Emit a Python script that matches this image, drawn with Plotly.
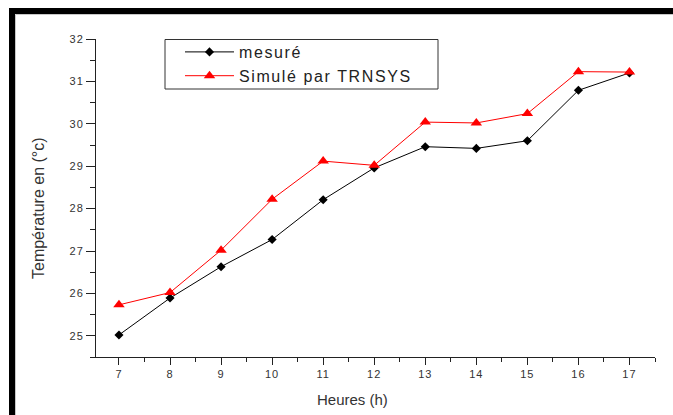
import plotly.graph_objects as go

hours = [7, 8, 9, 10, 11, 12, 13, 14, 15, 16, 17]
mesure = [25.02, 25.89, 26.63, 27.27, 28.21, 28.96, 29.46, 29.42, 29.60, 30.79, 31.20]
simule = [25.73, 26.02, 27.02, 28.22, 29.12, 29.02, 30.04, 30.02, 30.24, 31.23, 31.22]
name_mesure = "mesuré"
name_simule = "Simulé par TRNSYS"
x_title = "Heures (h)"
y_title = "Température en (°c)"

FONT = "Liberation Sans, Arial, sans-serif"
AXC = "#222222"

fig = go.Figure()
fig.add_trace(go.Scatter(
    x=hours, y=mesure, name=name_mesure, mode="lines+markers",
    line=dict(color="black", width=1),
    marker=dict(symbol="diamond", size=7, color="black"),
))
fig.add_trace(go.Scatter(
    x=hours, y=simule, name=name_simule, mode="lines+markers",
    line=dict(color="#ff0000", width=1),
    marker=dict(symbol="triangle-up", size=10, color="#ff0000"),
))

W, H = 673, 415
ml, mr, mt, mb = 96, 18, 39, 58
pw, ph = W - ml - mr, H - mt - mb


def px(xp):
    return (xp - ml) / pw


def py(yp):
    return (H - mb - yp) / ph


shapes = [
    # outer black frame (top and left)
    dict(type="rect", xref="paper", yref="paper", x0=px(9), x1=px(673), y0=py(14), y1=py(8),
         fillcolor="black", line=dict(width=0), layer="above"),
    dict(type="rect", xref="paper", yref="paper", x0=px(9), x1=px(15), y0=py(415), y1=py(8),
         fillcolor="black", line=dict(width=0), layer="above"),
    dict(type="line", xref="paper", yref="paper", x0=px(15.5), x1=px(673), y0=py(14.5), y1=py(14.5),
         line=dict(color="#c8c8c8", width=1)),
    dict(type="line", xref="paper", yref="paper", x0=px(15.5), x1=px(15.5), y0=py(415), y1=py(14.5),
         line=dict(color="#c8c8c8", width=1)),
    # legend box
    dict(type="rect", xref="paper", yref="paper", x0=px(165), x1=px(438), y0=py(89), y1=py(39.5),
         fillcolor="rgba(0,0,0,0)", line=dict(color="#333333", width=1), layer="above"),
]

annotations = [
    dict(text=x_title, xref="paper", yref="paper", x=px(352), y=py(399),
         xanchor="center", yanchor="middle", showarrow=False,
         font=dict(family=FONT, size=15, color="#333333")),
    dict(text=y_title, xref="paper", yref="paper", x=px(38), y=py(208),
         xanchor="center", yanchor="middle", showarrow=False, textangle=-90,
         font=dict(family=FONT, size=16, color="#333333")),
]

fig.update_layout(
    width=W, height=H,
    margin=dict(l=ml, r=mr, t=mt, b=mb, pad=0, autoexpand=False),
    paper_bgcolor="white", plot_bgcolor="white",
    font=dict(family=FONT, color="#333333"),
    showlegend=True,
    legend=dict(
        x=px(180), y=py(35), xanchor="left", yanchor="top",
        bgcolor="rgba(0,0,0,0)", borderwidth=0,
        font=dict(family=FONT, size=16, color="#222222"),
        itemwidth=49, tracegroupgap=0,
    ),
    shapes=shapes,
    annotations=annotations,
)

fig.update_xaxes(
    range=[6.55, 17.5], tick0=7, dtick=1, showgrid=False, zeroline=False, automargin=False,
    showline=True, linecolor=AXC, linewidth=1,
    ticks="outside", ticklen=7, tickcolor=AXC, tickwidth=1,
    minor=dict(ticks="outside", ticklen=4, dtick=0.5, tick0=7, tickcolor=AXC, showgrid=False),
    tickfont=dict(family=FONT, size=11, color="#333333"),
)
fig.update_yaxes(
    range=[24.5, 32], tick0=25, dtick=1, showgrid=False, zeroline=False, automargin=False,
    showline=True, linecolor=AXC, linewidth=1,
    ticks="outside", ticklen=9, tickcolor=AXC, tickwidth=1,
    minor=dict(ticks="outside", ticklen=5, dtick=0.5, tick0=25, tickcolor=AXC, showgrid=False),
    tickfont=dict(family=FONT, size=11, color="#333333"),
)

post = """
document.documentElement.style.margin='0';
document.body.style.margin='0';
document.body.style.padding='0';
document.body.style.overflow='hidden';
function sp(){
  document.querySelectorAll('.legend [clip-path]').forEach(function(e){e.removeAttribute('clip-path');});
  document.querySelectorAll('.legendtext').forEach(function(t){t.style.letterSpacing='1.6px';});
  document.querySelectorAll('.xtick text, .ytick text').forEach(function(t){t.style.letterSpacing='1px';});
}
sp();
"""

fig.write_html("out.html", post_script=post, config={"displayModeBar": False})
